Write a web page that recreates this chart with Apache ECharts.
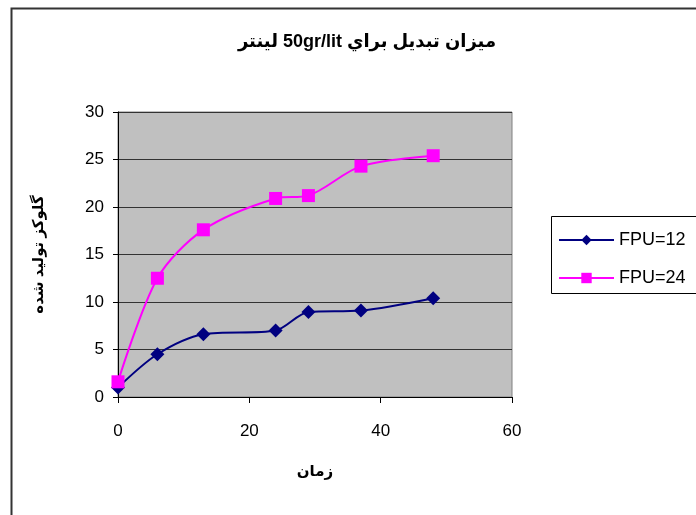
<!DOCTYPE html>
<html><head><meta charset="utf-8">
<script src="https://cdn.jsdelivr.net/npm/echarts@6/dist/echarts.min.js"></script>
<style>html,body{margin:0;padding:0;background:#fff}#c{width:696px;height:515px}</style>
</head><body><div id="c"></div>
<script>
var titleText = 'میزان تبدیل براي 50gr/lit لینتر';
var xName = 'زمان';
var yName = 'گلوکز تولید شده';
var seriesNames = ['FPU=12', 'FPU=24'];
var timeX = [0, 6, 13, 24, 29, 37, 48];
var fpu12 = [1.0, 4.5, 6.6, 7.0, 8.95, 9.1, 10.4];
var fpu24 = [1.6, 12.5, 17.6, 20.9, 21.2, 24.3, 25.4];
var xTicks = [0, 20, 40, 60];
var yTicks = [0, 5, 10, 15, 20, 25, 30];

function pairs(xs, ys){ return xs.map(function(x,i){return [x, ys[i]];}); }
var FONT = '"Liberation Sans", Arial, "DejaVu Sans", sans-serif';
var chart = echarts.init(document.getElementById('c'), null, {renderer:'canvas'});
chart.setOption({
  backgroundColor: '#ffffff',
  animation: false,
  title: {
    text: '\u202B' + titleText + '\u202C', left: 362, top: 28, textAlign: 'center',
    textStyle: {fontFamily: FONT, fontSize: 18, fontWeight: 'bold', color: '#000'}
  },
  graphic: [
    {type: 'rect', shape: {x: 11.5, y: 8.5, width: 700, height: 520}, style: {fill: 'none', stroke: '#333', lineWidth: 2}, z: -1},
    {type: 'rect', shape: {x: 551.5, y: 216.5, width: 160, height: 77}, style: {fill: '#fff', stroke: '#000', lineWidth: 1}, z: 0}
  ],
  legend: {
    orient: 'vertical', left: 553, top: 226, itemWidth: 55, itemHeight: 13, itemGap: 20,
    textStyle: {fontFamily: FONT, fontSize: 18, color: '#000'},
    data: seriesNames, z: 5
  },
  grid: {left: 118, top: 112, width: 394, height: 285, show: true, backgroundColor: '#c0c0c0', borderColor: '#808080', borderWidth: 1},
  xAxis: {
    type: 'value', min: 0, max: 60, interval: 20,
    name: xName, nameLocation: 'middle', nameGap: 67,
    nameTextStyle: {fontFamily: FONT, fontSize: 15, fontWeight: 'bold', color: '#000'},
    axisLine: {show: true, onZero: false, lineStyle: {color: '#000', width: 1}},
    axisTick: {show: true, length: 6, lineStyle: {color: '#000'}},
    axisLabel: {fontFamily: FONT, fontSize: 17, color: '#000', margin: 26},
    splitLine: {show: false}
  },
  yAxis: {
    type: 'value', min: 0, max: 30, interval: 5,
    name: yName, nameLocation: 'middle', nameGap: 72, nameRotate: 90,
    nameTextStyle: {fontFamily: FONT, fontSize: 15, fontWeight: 'bold', color: '#000'},
    axisLine: {show: true, onZero: false, lineStyle: {color: '#000', width: 1}},
    axisTick: {show: true, length: 5, lineStyle: {color: '#000'}},
    axisLabel: {fontFamily: FONT, fontSize: 17, color: '#000', margin: 14},
    splitLine: {show: true, lineStyle: {color: '#333', width: 1}}
  },
  series: [
    {name: seriesNames[0], type: 'line', data: pairs(timeX, fpu12), smooth: 0.3,
     symbol: 'diamond', symbolSize: 14, color: '#000080',
     lineStyle: {color: '#000080', width: 2}, itemStyle: {color: '#000080'}, z: 3},
    {name: seriesNames[1], type: 'line', data: pairs(timeX, fpu24), smooth: 0.3,
     symbol: 'rect', symbolSize: 13, color: '#ff00ff',
     lineStyle: {color: '#ff00ff', width: 2}, itemStyle: {color: '#ff00ff'}, z: 4}
  ]
});
</script></body></html>
